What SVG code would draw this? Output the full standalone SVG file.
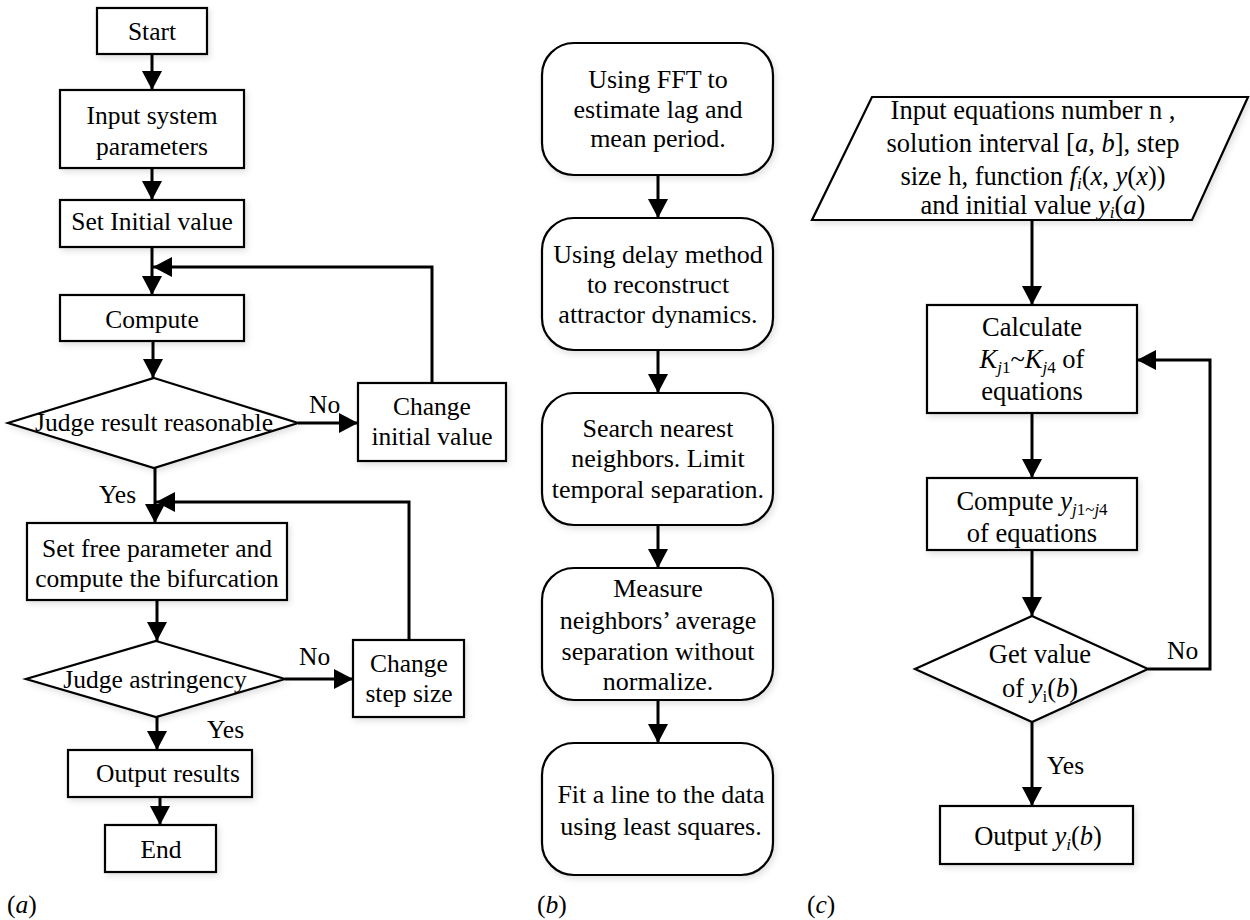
<svg xmlns="http://www.w3.org/2000/svg" width="1250" height="920" viewBox="0 0 1250 920" font-family="'Liberation Serif', Tinos, 'Times New Roman', 'DejaVu Serif', 'Noto Serif', serif">
  <defs>
    <marker id="arrow" markerUnits="userSpaceOnUse" markerWidth="20" markerHeight="20" refX="19" refY="10" orient="auto" viewBox="0 0 20 20">
      <path d="M0,0 L19,10 L0,20 Z" fill="#000"/>
    </marker>
    <filter id="shadow" x="-10%" y="-10%" width="125%" height="130%">
      <feDropShadow dx="2" dy="3" stdDeviation="3" flood-color="#000" flood-opacity="0.12"/>
    </filter>
  </defs>
  <style>
    .box { fill: #fff; stroke: #000; stroke-width: 2.2; filter: url(#shadow); }
    .arr { fill: none; stroke: #000; stroke-width: 3; marker-end: url(#arrow); }
    text { font-family: 'Liberation Serif', Tinos, 'Times New Roman', 'DejaVu Serif', 'Noto Serif', serif; fill: #000; }
    .ta { font-size: 25.5px; text-anchor: middle; }
    .tb { font-size: 26px; text-anchor: middle; }
    .tc { font-size: 26.5px; text-anchor: middle; }
    .lbl { font-size: 25.5px; }
    .it { font-style: italic; }
    .sub { font-size: 17px; }
  </style>

  <rect width="1250" height="920" fill="#fff"/>

  <!-- Panel (a): bifurcation computation flow -->
  <g id="a-start">
    <rect class="box" x="97" y="8" width="110" height="46"/>
    <text class="ta" x="152" y="40">Start</text>
  </g>
  <g id="a-input">
    <rect class="box" x="60" y="90" width="184" height="78"/>
    <text class="ta" x="152" y="124">Input system</text>
    <text class="ta" x="152" y="155">parameters</text>
  </g>
  <g id="a-init">
    <rect class="box" x="60" y="200" width="184" height="47"/>
    <text class="ta" x="152" y="230">Set Initial value</text>
  </g>
  <g id="a-compute">
    <rect class="box" x="60" y="295" width="184" height="46"/>
    <text class="ta" x="152" y="328">Compute</text>
  </g>
  <g id="a-judge1">
    <polygon class="box" points="154,378 298,423 154,468 8,423"/>
    <text class="ta" x="154" y="431">Judge result reasonable</text>
  </g>
  <g id="a-change-init">
    <rect class="box" x="358" y="383" width="148" height="78"/>
    <text class="ta" x="432" y="415">Change</text>
    <text class="ta" x="432" y="445">initial value</text>
  </g>
  <g id="a-setfree">
    <rect class="box" x="27" y="523" width="260" height="77"/>
    <text class="ta" x="157" y="557">Set free parameter and</text>
    <text class="ta" x="157" y="587">compute the bifurcation</text>
  </g>
  <g id="a-judge2">
    <polygon class="box" points="156,641 285,679 156,717 26,679"/>
    <text class="ta" x="155" y="688">Judge astringency</text>
  </g>
  <g id="a-change-step">
    <rect class="box" x="353" y="640" width="111" height="77"/>
    <text class="ta" x="409" y="672">Change</text>
    <text class="ta" x="409" y="702">step size</text>
  </g>
  <g id="a-output">
    <rect class="box" x="68" y="750" width="184" height="47"/>
    <text class="ta" x="168" y="782">Output results</text>
  </g>
  <g id="a-end">
    <rect class="box" x="105" y="825" width="111" height="47"/>
    <text class="ta" x="161" y="858">End</text>
  </g>

  <!-- Panel (b): largest Lyapunov exponent steps -->
  <g id="b-fft">
    <rect class="box" x="542" y="43" width="231" height="132" rx="32" ry="32"/>
    <text class="tb" x="658" y="88">Using FFT to</text>
    <text class="tb" x="658" y="118">estimate lag and</text>
    <text class="tb" x="658" y="147">mean period.</text>
  </g>
  <g id="b-delay">
    <rect class="box" x="542" y="218" width="231" height="132" rx="32" ry="32"/>
    <text class="tb" x="658" y="263">Using delay method</text>
    <text class="tb" x="658" y="293">to reconstruct</text>
    <text class="tb" x="658" y="323">attractor dynamics.</text>
  </g>
  <g id="b-search">
    <rect class="box" x="542" y="393" width="231" height="132" rx="32" ry="32"/>
    <text class="tb" x="658" y="437">Search nearest</text>
    <text class="tb" x="658" y="467">neighbors. Limit</text>
    <text class="tb" x="658" y="498">temporal separation.</text>
  </g>
  <g id="b-measure">
    <rect class="box" x="542" y="568" width="231" height="132" rx="32" ry="32"/>
    <text class="tb" x="658" y="597">Measure</text>
    <text class="tb" x="658" y="629">neighbors’ average</text>
    <text class="tb" x="658" y="660">separation without</text>
    <text class="tb" x="658" y="690">normalize.</text>
  </g>
  <g id="b-fit">
    <rect class="box" x="542" y="743" width="231" height="132" rx="32" ry="32"/>
    <text class="tb" x="661" y="803">Fit a line to the data</text>
    <text class="tb" x="661" y="835">using least squares.</text>
  </g>

  <!-- Panel (c): fourth-order Runge-Kutta solver -->
  <g id="c-input">
    <polygon class="box" points="872,97 1248,97 1192,220 812,220"/>
    <text class="tc" x="1033" y="119">Input equations number n ,</text>
    <text class="tc" x="1033" y="152">solution interval [<tspan class="it">a</tspan>, <tspan class="it">b</tspan>], step</text>
    <text class="tc" x="1033" y="185">size h, function <tspan class="it">f</tspan><tspan class="it sub" dy="4">i</tspan><tspan dy="-4">(</tspan><tspan class="it">x</tspan>, <tspan class="it">y</tspan>(<tspan class="it">x</tspan>))</text>
    <text class="tc" x="1033" y="214">and initial value <tspan class="it">y</tspan><tspan class="it sub" dy="4">i</tspan><tspan dy="-4">(</tspan><tspan class="it">a</tspan>)</text>
  </g>
  <g id="c-calc">
    <rect class="box" x="927" y="305" width="210" height="108"/>
    <text class="tc" x="1032" y="336">Calculate</text>
    <text class="tc" x="1032" y="368"><tspan class="it">K</tspan><tspan class="sub" dy="5"><tspan class="it">j</tspan>1</tspan><tspan dy="-5">~</tspan><tspan class="it">K</tspan><tspan class="sub" dy="5"><tspan class="it">j</tspan>4</tspan><tspan dy="-5"> of</tspan></text>
    <text class="tc" x="1032" y="400">equations</text>
  </g>
  <g id="c-compute">
    <rect class="box" x="927" y="478" width="210" height="72"/>
    <text class="tc" x="1032" y="510">Compute <tspan class="it">y</tspan><tspan class="sub" dy="5"><tspan class="it">j</tspan>1~<tspan class="it">j</tspan>4</tspan></text>
    <text class="tc" x="1032" y="542">of equations</text>
  </g>
  <g id="c-judge">
    <polygon class="box" points="1032,616 1148,669 1032,722 915,669"/>
    <text class="tc" x="1040" y="663">Get value</text>
    <text class="tc" x="1040" y="697">of <tspan class="it">y</tspan><tspan class="sub" dy="5">i</tspan><tspan dy="-5">(</tspan><tspan class="it">b</tspan>)</text>
  </g>
  <g id="c-output">
    <rect class="box" x="940" y="806" width="193" height="58"/>
    <text class="tc" x="1038" y="845">Output <tspan class="it">y</tspan><tspan class="it sub" dy="5">i</tspan><tspan dy="-5">(</tspan><tspan class="it">b</tspan>)</text>
  </g>

  <!-- Connectors -->
  <g id="connectors">
    <!-- (a) -->
    <line class="arr" x1="152" y1="54" x2="152" y2="90"/>
    <line class="arr" x1="152" y1="168" x2="152" y2="200"/>
    <line class="arr" x1="152" y1="247" x2="152" y2="295"/>
    <polyline class="arr" points="432,383 432,267 153,267"/>
    <line class="arr" x1="153" y1="341" x2="153" y2="378"/>
    <line class="arr" x1="298" y1="423" x2="358" y2="423"/>
    <line class="arr" x1="155" y1="468" x2="155" y2="523"/>
    <polyline class="arr" points="409,640 409,502 156,502"/>
    <line class="arr" x1="157" y1="600" x2="157" y2="641"/>
    <line class="arr" x1="285" y1="679" x2="353" y2="679"/>
    <line class="arr" x1="157" y1="717" x2="157" y2="750"/>
    <line class="arr" x1="160" y1="797" x2="160" y2="825"/>
    <!-- (b) -->
    <line class="arr" x1="658" y1="175" x2="658" y2="218"/>
    <line class="arr" x1="658" y1="350" x2="658" y2="393"/>
    <line class="arr" x1="658" y1="525" x2="658" y2="568"/>
    <line class="arr" x1="658" y1="700" x2="658" y2="743"/>
    <!-- (c) -->
    <line class="arr" x1="1032" y1="220" x2="1032" y2="305"/>
    <line class="arr" x1="1032" y1="413" x2="1032" y2="478"/>
    <line class="arr" x1="1032" y1="550" x2="1032" y2="616"/>
    <polyline class="arr" points="1148,669 1210,669 1210,360 1137,360"/>
    <line class="arr" x1="1032" y1="722" x2="1032" y2="806"/>
  </g>

  <!-- Branch labels -->
  <g id="branch-labels">
    <text class="lbl" x="309" y="413">No</text>
    <text class="lbl" x="99" y="503">Yes</text>
    <text class="lbl" x="299" y="665">No</text>
    <text class="lbl" x="207" y="738">Yes</text>
    <text class="lbl" x="1167" y="659">No</text>
    <text class="lbl" x="1047" y="774">Yes</text>
  </g>

  <!-- Panel captions -->
  <g id="captions">
    <text class="lbl" x="7" y="913">(<tspan class="it">a</tspan>)</text>
    <text class="lbl" x="537" y="913">(<tspan class="it">b</tspan>)</text>
    <text class="lbl" x="807" y="913">(<tspan class="it">c</tspan>)</text>
  </g>
</svg>
